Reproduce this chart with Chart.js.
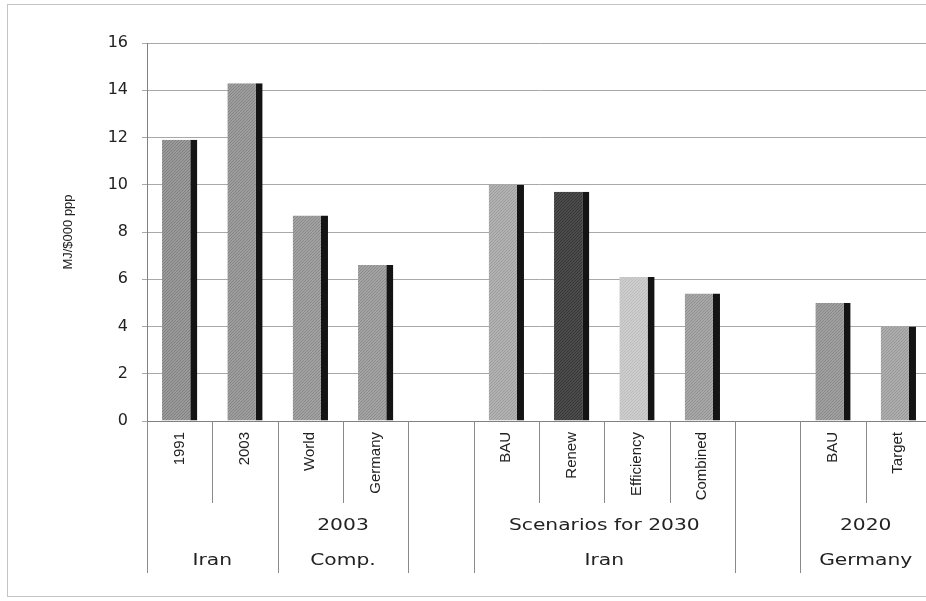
<!DOCTYPE html>
<html>
<head>
<meta charset="utf-8">
<script src="https://cdn.jsdelivr.net/npm/chart.js@4"></script>
<style>
  body { margin: 0; background: #fff; overflow: hidden; }
  #graficoArea { position: absolute; left: 0; top: 0; width: 935px; height: 601px; }
</style>
</head>
<body>
<div id="graficoArea"><canvas id="grafico"></canvas></div>
<script>
// Categorias do primeiro nível (rótulos verticais) e valores em MJ/$000 PPP
const categorias = ['1991', '2003', 'World', 'Germany', '', 'BAU', 'Renew', 'Efficiency', 'Combined', '', 'BAU', 'Target']
const valores = [11.9, 14.3, 8.7, 6.6, null, 10.0, 9.7, 6.1, 5.4, null, 5.0, 4.0]
// Segundo e terceiro níveis do eixo x
const grupoNivel2 = ['', '', '2003', '2003', '', 'Scenarios for 2030', 'Scenarios for 2030', 'Scenarios for 2030', 'Scenarios for 2030', '', '2020', '2020']
const grupoNivel3 = ['Iran', 'Iran', 'Comp.', 'Comp.', '', 'Iran', 'Iran', 'Iran', 'Iran', '', 'Germany', 'Germany']
const tituloY = 'MJ/$000 ppp'

// Tons de cinza de cada barra (base, ponto da textura)
const cores = [
    ['#9a9a9a', '#808080'], ['#9e9e9e', '#848484'], ['#a2a2a2', '#888888'], ['#a4a4a4', '#8a8a8a'], ['#fff', '#fff'],
    ['#b2b2b2', '#9c9c9c'], ['#4c4c4c', '#363636'], ['#cdcdcd', '#bdbdbd'], ['#a8a8a8', '#909090'], ['#fff', '#fff'],
    ['#a0a0a0', '#888888'], ['#adadad', '#979797']
]

const canvas = document.getElementById('grafico')
const ctxPrincipal = canvas.getContext('2d')

// Cria uma textura pontilhada parecida com a do gráfico original
function textura(base, ponto) {
    const c = document.createElement('canvas')
    c.width = 3
    c.height = 3
    const g = c.getContext('2d')
    g.fillStyle = base
    g.fillRect(0, 0, 3, 3)
    g.fillStyle = ponto
    g.fillRect(0, 0, 1, 1)
    g.fillRect(2, 1, 1, 1)
    g.fillRect(1, 2, 1, 1)
    return ctxPrincipal.createPattern(c, 'repeat')
}

// Desenha moldura e fundo
const moldura = {
    id: 'moldura',
    beforeDraw(chart) {
        const ctx = chart.ctx
        ctx.save()
        ctx.fillStyle = '#fff'
        ctx.fillRect(0, 0, chart.width, chart.height)
        ctx.strokeStyle = '#c4c4c4'
        ctx.lineWidth = 1
        ctx.strokeRect(7.5, 4.5, 1000, 592)
        ctx.restore()
    }
}

// Eixo x com vários níveis (linhas divisórias e rótulos de grupo)
const eixoMultinivel = {
    id: 'eixoMultinivel',
    afterDraw(chart) {
        const ctx = chart.ctx
        const x = chart.scales.x
        const base = chart.chartArea.bottom
        const meia = (x.getPixelForValue(1) - x.getPixelForValue(0)) / 2
        const n = categorias.length
        ctx.save()
        ctx.strokeStyle = '#8a8a8a'
        ctx.lineWidth = 1
        for (let i = 0; i <= n; i++) {
            const centro = i < n ? x.getPixelForValue(i) - meia : x.getPixelForValue(n - 1) + meia
            const px = Math.round(centro) + 0.5
            let comprimento = 82
            if (i === 0 || i === n || grupoNivel3[i] !== grupoNivel3[i - 1]) comprimento = 152
            else if (grupoNivel2[i] !== grupoNivel2[i - 1]) comprimento = 117
            ctx.beginPath()
            ctx.moveTo(px, base)
            ctx.lineTo(px, base + comprimento)
            ctx.stroke()
        }

        // Texto esticado na horizontal, como no original
        const esticar = 1.35
        ctx.font = '15px "DejaVu Sans"'
        ctx.fillStyle = '#222'
        ctx.textAlign = 'center'
        ctx.textBaseline = 'middle'
        function desenhaGrupos(niveis, y) {
            let inicio = 0
            for (let i = 1; i <= n; i++) {
                if (i === n || niveis[i] !== niveis[inicio]) {
                    if (niveis[inicio] !== '') {
                        const cx = (x.getPixelForValue(inicio) + x.getPixelForValue(i - 1)) / 2
                        ctx.save()
                        ctx.translate(cx, y)
                        ctx.scale(esticar, 1)
                        ctx.fillText(niveis[inicio], 0, 0)
                        ctx.restore()
                    }
                    inicio = i
                }
            }
        }
        desenhaGrupos(grupoNivel2, base + 105)
        desenhaGrupos(grupoNivel3, base + 140)
        ctx.restore()
    }
}

const config = {
    type: 'bar',
    data: {
        labels: categorias,
        datasets: [{
            data: valores,
            backgroundColor: cores.map(c => textura(c[0], c[1])),
            borderColor: '#141414',
            borderWidth: { top: 0, right: 7, bottom: 0, left: 0 },
            borderSkipped: false,
            barPercentage: 0.54,
            categoryPercentage: 1
        }]
    },
    options: {
        responsive: true,
        maintainAspectRatio: false,
        animation: false,
        layout: { padding: { top: 43, right: 4, left: 0, bottom: 0 } },
        plugins: {
            legend: { display: false },
            tooltip: { enabled: false }
        },
        scales: {
            x: {
                grid: { display: false, drawTicks: false },
                border: { display: true, color: '#808080' },
                ticks: {
                    minRotation: 90,
                    maxRotation: 90,
                    autoSkip: false,
                    padding: 11,
                    color: '#222',
                    font: { family: 'Liberation Sans', size: 15 }
                },
                afterFit: function (escala) { escala.height = 180 }
            },
            y: {
                min: 0,
                max: 16,
                ticks: {
                    stepSize: 2,
                    padding: 14,
                    color: '#222',
                    font: { family: 'DejaVu Sans', size: 16 }
                },
                grid: { color: '#a8a8a8', tickLength: 5 },
                border: { color: '#808080' },
                title: {
                    display: true,
                    text: tituloY,
                    color: '#222',
                    font: { family: 'Liberation Sans', size: 13 },
                    padding: { top: 61, bottom: 0 }
                },
                afterFit: function (escala) { escala.width = 147 }
            }
        }
    },
    plugins: [moldura, eixoMultinivel]
}

new Chart(ctxPrincipal, config)
</script>
</body>
</html>
